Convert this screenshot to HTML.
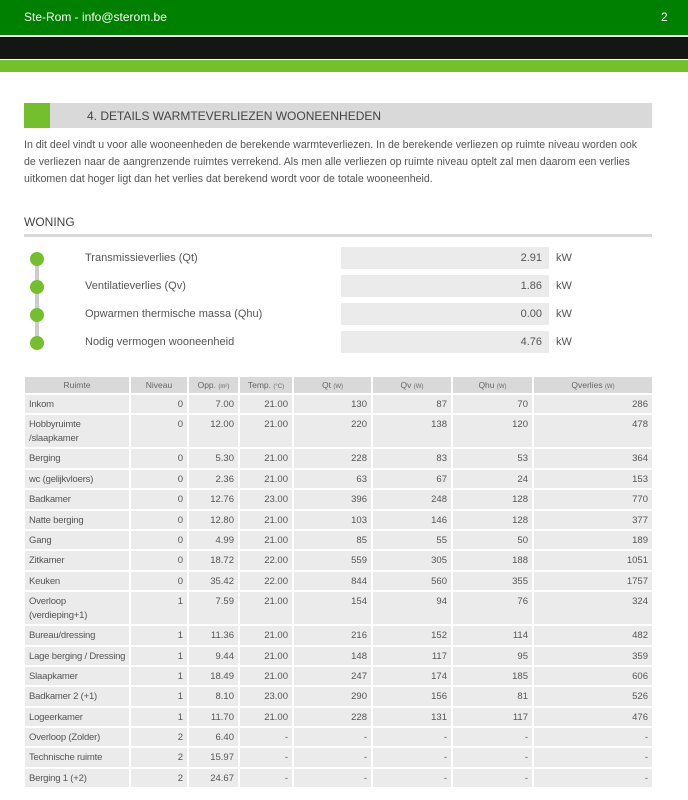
<!DOCTYPE html>
<html><head><meta charset="utf-8"><style>
*{margin:0;padding:0;box-sizing:border-box}
body{width:688px;height:800px;background:#fff;font-family:"Liberation Sans",sans-serif;color:#444;position:relative;overflow:hidden}
.a{position:absolute}
table{border-collapse:separate;border-spacing:2px;position:absolute;left:23px;top:375px;width:631px;font-size:9.5px;color:#555;table-layout:fixed}
td{background:#ebebeb;padding:3px 4px 1px;text-align:right;vertical-align:top;height:18.4px;line-height:14px;white-space:nowrap;overflow:hidden}
td:first-child{text-align:left;letter-spacing:-0.2px}
th{background:#d9d9d9;font-weight:normal;font-size:8.5px;height:16px;color:#666;text-align:center;padding:0}
th small{font-size:6px}
tr.d td{height:31.5px;white-space:normal}
.v{position:absolute;left:341px;width:208px;height:22px;background:#ebebeb;text-align:right;padding:0 7px;font-size:11px;line-height:22px;color:#555}
.k{position:absolute;left:556px;font-size:11px;line-height:22px;color:#555}
.l{position:absolute;left:85px;font-size:11px;line-height:22px;color:#555}
.c{position:absolute;left:30px;width:14px;height:14px;border-radius:50%;background:#74c02c}
</style></head><body>
<div class="a" style="left:0;top:0;width:688px;height:35px;background:#008000"></div>
<div class="a" style="left:24px;top:10px;color:#fff;font-size:12px">Ste-Rom - info@sterom.be</div>
<div class="a" style="left:661px;top:10px;color:#fff;font-size:12px">2</div>
<div class="a" style="left:0;top:37px;width:688px;height:22px;background:#131613"></div>
<div class="a" style="left:0;top:60px;width:688px;height:12px;background:#74c02c"></div>
<div class="a" style="left:24px;top:103px;width:628px;height:25px;background:#d9d9d9"></div>
<div class="a" style="left:24px;top:103px;width:26px;height:25px;background:#74c02c"></div>
<div class="a" style="left:87px;top:109px;font-size:12px;color:#444">4. DETAILS WARMTEVERLIEZEN WOONEENHEDEN</div>
<div class="a" style="left:24px;top:137px;font-size:10.6px;line-height:17px;color:#555;white-space:nowrap">In dit deel vindt u voor alle wooneenheden de berekende warmteverliezen. In de berekende verliezen op ruimte niveau worden ook<br>de verliezen naar de aangrenzende ruimtes verrekend. Als men alle verliezen op ruimte niveau optelt zal men daarom een verlies<br>uitkomen dat hoger ligt dan het verlies dat berekend wordt voor de totale wooneenheid.</div>
<div class="a" style="left:24px;top:215px;font-size:12px;color:#444">WONING</div>
<div class="a" style="left:24px;top:234px;width:628px;height:3px;background:#d9d9d9"></div>
<div class="a" style="left:35px;top:258px;width:4px;height:84px;background:#ccc"></div>
<div class="c" style="top:252px"></div><div class="c" style="top:280px"></div><div class="c" style="top:308px"></div><div class="c" style="top:336px"></div>
<div class="l" style="top:247px">Transmissieverlies (Qt)</div>
<div class="l" style="top:275px">Ventilatieverlies (Qv)</div>
<div class="l" style="top:303px">Opwarmen thermische massa (Qhu)</div>
<div class="l" style="top:331px">Nodig vermogen wooneenheid</div>
<div class="v" style="top:247px">2.91</div>
<div class="v" style="top:275px">1.86</div>
<div class="v" style="top:303px">0.00</div>
<div class="v" style="top:331px">4.76</div>
<div class="k" style="top:247px">kW</div>
<div class="k" style="top:275px">kW</div>
<div class="k" style="top:303px">kW</div>
<div class="k" style="top:331px">kW</div>
<table>
<colgroup><col style="width:104px"><col style="width:56px"><col style="width:49px"><col style="width:52px"><col style="width:77px"><col style="width:78px"><col style="width:79px"><col></colgroup>
<tr><th>Ruimte</th><th>Niveau</th><th>Opp. <small>(m²)</small></th><th>Temp. <small>(°C)</small></th><th>Qt <small>(W)</small></th><th>Qv <small>(W)</small></th><th>Qhu <small>(W)</small></th><th>Qverlies <small>(W)</small></th></tr>
<tr><td>Inkom</td><td>0</td><td>7.00</td><td>21.00</td><td>130</td><td>87</td><td>70</td><td>286</td></tr>
<tr class="d"><td>Hobbyruimte<br>/slaapkamer</td><td>0</td><td>12.00</td><td>21.00</td><td>220</td><td>138</td><td>120</td><td>478</td></tr>
<tr><td>Berging</td><td>0</td><td>5.30</td><td>21.00</td><td>228</td><td>83</td><td>53</td><td>364</td></tr>
<tr><td>wc (gelijkvloers)</td><td>0</td><td>2.36</td><td>21.00</td><td>63</td><td>67</td><td>24</td><td>153</td></tr>
<tr><td>Badkamer</td><td>0</td><td>12.76</td><td>23.00</td><td>396</td><td>248</td><td>128</td><td>770</td></tr>
<tr><td>Natte berging</td><td>0</td><td>12.80</td><td>21.00</td><td>103</td><td>146</td><td>128</td><td>377</td></tr>
<tr><td>Gang</td><td>0</td><td>4.99</td><td>21.00</td><td>85</td><td>55</td><td>50</td><td>189</td></tr>
<tr><td>Zitkamer</td><td>0</td><td>18.72</td><td>22.00</td><td>559</td><td>305</td><td>188</td><td>1051</td></tr>
<tr><td>Keuken</td><td>0</td><td>35.42</td><td>22.00</td><td>844</td><td>560</td><td>355</td><td>1757</td></tr>
<tr class="d"><td>Overloop<br>(verdieping+1)</td><td>1</td><td>7.59</td><td>21.00</td><td>154</td><td>94</td><td>76</td><td>324</td></tr>
<tr><td>Bureau/dressing</td><td>1</td><td>11.36</td><td>21.00</td><td>216</td><td>152</td><td>114</td><td>482</td></tr>
<tr><td>Lage berging / Dressing</td><td>1</td><td>9.44</td><td>21.00</td><td>148</td><td>117</td><td>95</td><td>359</td></tr>
<tr><td>Slaapkamer</td><td>1</td><td>18.49</td><td>21.00</td><td>247</td><td>174</td><td>185</td><td>606</td></tr>
<tr><td>Badkamer 2 (+1)</td><td>1</td><td>8.10</td><td>23.00</td><td>290</td><td>156</td><td>81</td><td>526</td></tr>
<tr><td>Logeerkamer</td><td>1</td><td>11.70</td><td>21.00</td><td>228</td><td>131</td><td>117</td><td>476</td></tr>
<tr><td>Overloop (Zolder)</td><td>2</td><td>6.40</td><td>-</td><td>-</td><td>-</td><td>-</td><td>-</td></tr>
<tr><td>Technische ruimte</td><td>2</td><td>15.97</td><td>-</td><td>-</td><td>-</td><td>-</td><td>-</td></tr>
<tr><td>Berging 1 (+2)</td><td>2</td><td>24.67</td><td>-</td><td>-</td><td>-</td><td>-</td><td>-</td></tr>
</table>
</body></html>
